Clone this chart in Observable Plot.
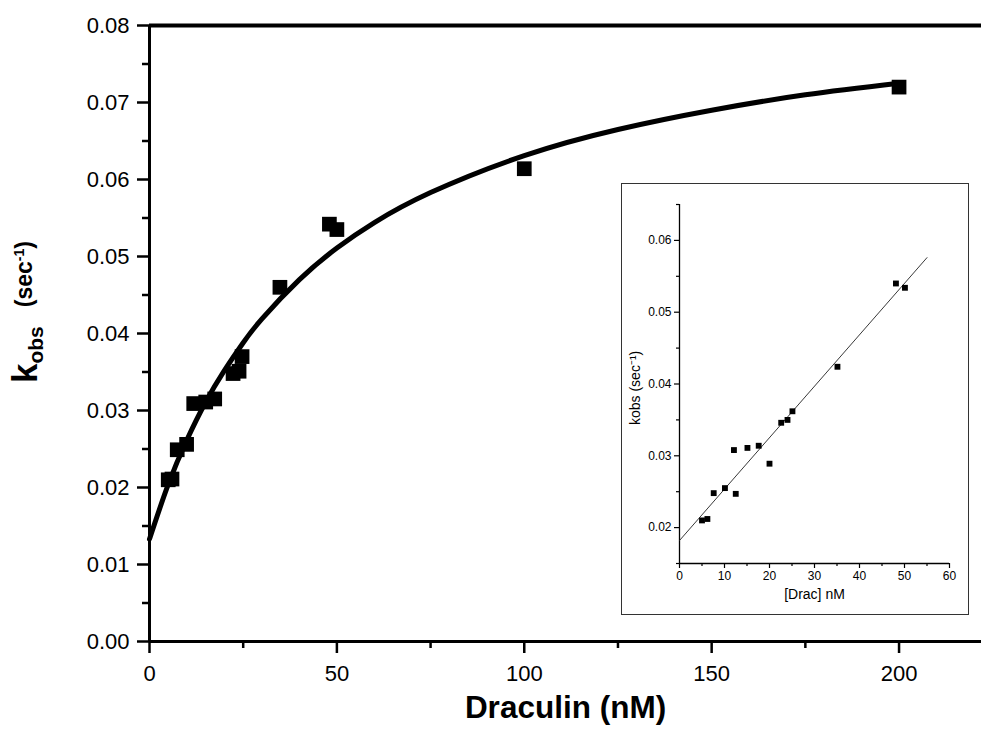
<!DOCTYPE html>
<html><head><meta charset="utf-8">
<script src="https://cdn.jsdelivr.net/npm/d3@7"></script>
<script src="https://cdn.jsdelivr.net/npm/@observablehq/plot@0.6"></script>
<style>
body{margin:0;background:#fff;}
#wrap{position:relative;width:981px;height:732px;overflow:hidden;background:#fff;}
#inset{position:absolute;left:621px;top:183px;width:346px;height:430px;border:1.5px solid #333;background:#fff;}
#inset svg, #main svg{display:block;}
</style></head><body>
<div id="wrap"><div id="main"></div><div id="inset"></div></div>
<script>
// ---- main panel: measured points ----
const mainConc = [5.0, 6.0, 7.4, 9.9, 11.8, 15.0, 17.4, 22.3, 23.9, 24.7, 34.8, 48.0, 50.0, 100, 200];
const mainKobs = [0.0210, 0.0211, 0.0249, 0.0256, 0.0309, 0.0311, 0.0315, 0.0348, 0.0351, 0.0370, 0.0460, 0.0542, 0.0535, 0.0614, 0.0720];
// ---- main panel: fitted curve ----
const fitConc = [0, 5, 10, 15, 20, 25, 30, 40, 50, 60, 75, 100, 125, 150, 175, 200];
const fitKobs = [0.0133, 0.0204, 0.0262, 0.0311, 0.0352, 0.0388, 0.0419, 0.0470, 0.0511, 0.0544, 0.0583, 0.0631, 0.0665, 0.0690, 0.0710, 0.0725];
// ---- main panel ticks ----
const xMajor = [0, 50, 100, 150, 200];
const xMinor = [25, 75, 125, 175];
const yMajor = [0, 0.01, 0.02, 0.03, 0.04, 0.05, 0.06, 0.07, 0.08];
const yMinor = [0.005, 0.015, 0.025, 0.035, 0.045, 0.055, 0.065, 0.075];

// ---- inset: measured points ----
const insetConc = [5.0, 6.2, 7.6, 10.1, 12.1, 12.5, 15.1, 17.6, 20.0, 22.6, 24.0, 25.1, 35.1, 48.1, 50.1];
const insetKobs = [0.0210, 0.0212, 0.0248, 0.0255, 0.0308, 0.0247, 0.0311, 0.0314, 0.0289, 0.0346, 0.0350, 0.0362, 0.0424, 0.0540, 0.0534];
// ---- inset: linear fit endpoints ----
const lineConc = [0, 55];
const lineKobs = [0.0182, 0.0576];
// ---- inset ticks ----
const ixMajor = [0, 10, 20, 30, 40, 50, 60];
const ixMinor = [5, 15, 25, 35, 45, 55];
const iyMajor = [0.02, 0.03, 0.04, 0.05, 0.06];
const iyMinor = [0.015, 0.025, 0.035, 0.045, 0.055, 0.065];

const mainPts = mainConc.map((c, i) => ({c, k: mainKobs[i]}));
const fitPts = fitConc.map((c, i) => ({c, k: fitKobs[i]}));
const insetPts = insetConc.map((c, i) => ({c, k: insetKobs[i]}));
const linePts = lineConc.map((c, i) => ({c, k: lineKobs[i]}));

const FONT = "'Liberation Sans', Arial, Helvetica, sans-serif";

const main = Plot.plot({
  width: 981, height: 732,
  marginLeft: 149, marginTop: 25, marginBottom: 91, marginRight: 0,
  style: {fontFamily: FONT, background: "white", color: "black", overflow: "visible"},
  x: {domain: [0, 222]},
  y: {domain: [0, 0.08]},
  marks: [
    Plot.axisY(yMajor, {tickSize: 12, tickPadding: 8, strokeWidth: 2.5, fontSize: 22, tickFormat: d3.format(".2f"), label: null}),
    Plot.axisY(yMinor, {tickSize: 7, strokeWidth: 2.5, tickFormat: () => "", label: null}),
    Plot.axisX(xMajor, {tickSize: 12, tickPadding: 12, strokeWidth: 2.5, fontSize: 22, label: null}),
    Plot.axisX(xMinor, {tickSize: 7, strokeWidth: 2.5, tickFormat: () => "", label: null}),
    Plot.ruleX([0], {strokeWidth: 3}),
    Plot.ruleY([0], {strokeWidth: 3}),
    Plot.ruleY([0.08], {strokeWidth: 4}),
    Plot.line(fitPts, {x: "c", y: "k", curve: "natural", strokeWidth: 5, stroke: "black"}),
    Plot.dot(mainPts, {x: "c", y: "k", symbol: "square", r: 8.3, fill: "black", stroke: null}),
    Plot.text(["Draculin (nM)"], {frameAnchor: "bottom", dy: 76, fontSize: 31.5, fontWeight: "bold", fill: "black"})
  ]
});

// y-axis title with subscript / superscript
const svg = d3.select(main);
const t = svg.append("text")
  .attr("transform", "translate(37,383) rotate(-90)")
  .attr("text-anchor", "start")
  .attr("font-family", FONT)
  .attr("font-weight", "bold")
  .attr("fill", "black");
t.append("tspan").attr("font-size", 35).text("k");
t.append("tspan").attr("font-size", 21).attr("dy", 6).text("obs");
t.append("tspan").attr("font-size", 23).attr("dx", 19).attr("dy", -11).text("(sec");
t.append("tspan").attr("font-size", 14).attr("dy", -8).text("-1");
t.append("tspan").attr("font-size", 23).attr("dy", 8).text(")");

document.getElementById("main").appendChild(main);

const inset = Plot.plot({
  width: 346, height: 430,
  marginLeft: 57, marginRight: 19, marginTop: 20, marginBottom: 51,
  style: {fontFamily: FONT, background: "white", color: "black", overflow: "visible"},
  x: {domain: [0, 60]},
  y: {domain: [0.015, 0.065]},
  marks: [
    Plot.axisY(iyMajor, {tickSize: 5, tickPadding: 3, strokeWidth: 1.2, fontSize: 12, tickFormat: d3.format(".2f"), label: null}),
    Plot.axisY(iyMinor, {tickSize: 3, strokeWidth: 1.2, tickFormat: () => "", label: null}),
    Plot.axisX(ixMajor, {tickSize: 5, tickPadding: 3, strokeWidth: 1.2, fontSize: 12, label: null}),
    Plot.axisX(ixMinor, {tickSize: 3, strokeWidth: 1.2, tickFormat: () => "", label: null}),
    Plot.ruleX([0], {strokeWidth: 1.3}),
    Plot.ruleY([0.015], {strokeWidth: 1.3}),
    Plot.line(linePts, {x: "c", y: "k", strokeWidth: 0.9, stroke: "#222"}),
    Plot.dot(insetPts, {x: "c", y: "k", symbol: "square", r: 3.3, fill: "black", stroke: null}),
    Plot.text(["kobs (sec\u207B\u00B9)"], {frameAnchor: "left", rotate: -90, dx: -44, dy: 41, fontSize: 14, fill: "black"}),
    Plot.text(["[Drac] nM"], {frameAnchor: "bottom", dy: 35, fontSize: 14, fill: "black"})
  ]
});
document.getElementById("inset").appendChild(inset);
</script>
</body></html>
